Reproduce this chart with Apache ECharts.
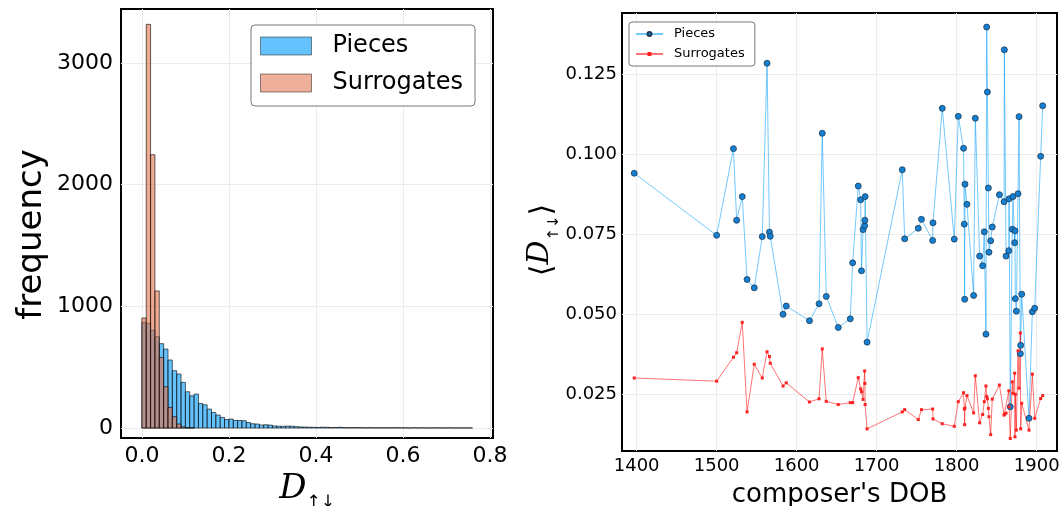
<!DOCTYPE html>
<html><head><meta charset="utf-8">
<script src="https://cdn.jsdelivr.net/npm/echarts@6/dist/echarts.min.js"></script>
<style>html,body{margin:0;padding:0;background:#fff}#c{width:1060px;height:506px}</style>
</head><body><div id="c"></div>
<script>
// ---------- data ----------
const binWidth = 0.01;
const piecesCounts = [868,860,805,750,693,649,559,471,444,375,298,265,279,202,191,156,128,107,87,70,
  74,62,62,60,45,35,33,25,27,24,17,15,14,16,15,11,9,8,7,6,
  5,7,6,4,5,6,4,3,3,4,3,2,3,2,2,3,2,2,3,2,
  2,1,2,1,2,1,1,2,1,1,2,1,1,1,1,1];
const surrogateCounts = [904,3317,2246,1126,580,339,169,93,33,10,3,1];
const histXTicks = [0, 0.2, 0.4, 0.6, 0.8];
const histYTicks = [0, 1000, 2000, 3000];

const dobYears = [1397,1500,1521,1525,1532,1538,1547,1557,1563,1566,1567,1583,1587,1616,1628,1632,1637,1652,1667,1670,
  1677,1680,1681,1683,1685,1685.3,1685.6,1688,1732,1735,1752,1756,1770,1770.4,1782,1797,1802,1808.6,1809.5,1810,
  1810.4,1812.9,1821.2,1823.3,1828.7,1832.5,1834.5,1836.6,1837.5,1838.4,1839.6,1840.4,1842.5,1844.5,1853.4,1859.3,1859.6,1861.7,1865.2,1865.5,
  1867,1869.5,1870.4,1872.5,1872.9,1873.3,1874.6,1876.7,1878,1879.6,1880,1881.3,1890.4,1894.6,1897.5,1905,1907.5];
const piecesMean = [0.0941,0.0747,0.1018,0.0794,0.0868,0.0609,0.0583,0.0743,0.1285,0.0757,0.0744,0.0500,0.0526,0.0480,0.0533,0.1066,0.0556,0.0459,0.0486,0.0661,
  0.0901,0.0858,0.0636,0.0765,0.0777,0.0794,0.0868,0.0413,0.0952,0.0736,0.0769,0.0797,0.0731,0.0786,0.1144,0.0735,0.1119,0.1019,0.0782,0.0547,
  0.0907,0.0844,0.0559,0.1113,0.0682,0.0652,0.0758,0.0438,0.1398,0.1195,0.0895,0.0694,0.0730,0.0773,0.0874,0.0852,0.1327,0.0682,0.0699,0.0861,
  0.0211,0.0766,0.0868,0.0724,0.0761,0.0549,0.0510,0.0877,0.1118,0.0377,0.0403,0.0563,0.0175,0.0508,0.0519,0.0994,0.1152];
const surrogatesMean = [0.0301,0.0291,0.0366,0.0380,0.0475,0.0195,0.0344,0.0301,0.0383,0.0368,0.0347,0.0276,0.0286,0.0226,0.0236,0.0392,0.0228,0.0218,0.0224,0.0224,
  0.0302,0.0267,0.0258,0.0234,0.0323,0.0284,0.0218,0.0142,0.0195,0.0202,0.0171,0.0202,0.0204,0.0173,0.0158,0.0150,0.0227,0.0255,0.0204,0.0155,
  0.0207,0.0246,0.0192,0.0308,0.0161,0.0187,0.0227,0.0276,0.0243,0.0236,0.0206,0.0180,0.0124,0.0235,0.0279,0.0185,0.0188,0.0191,0.0261,0.0211,
  0.0112,0.0289,0.0253,0.0316,0.0117,0.0250,0.0138,0.0386,0.0269,0.0442,0.0142,0.0222,0.0138,0.0313,0.0175,0.0237,0.0246];
const dobTicks = [1400, 1500, 1600, 1700, 1800, 1900];
const meanTicks = [0.025, 0.050, 0.075, 0.100, 0.125];

// ---------- chart ----------
const FONT = "DejaVu Sans";
const chart = echarts.init(document.getElementById('c'), null, {renderer: 'canvas'});

function barRenderer(fill, stroke) {
  return function (params, api) {
    const x0 = api.value(0), h = api.value(1);
    const p0 = api.coord([x0, h]);
    const p1 = api.coord([x0 + binWidth, 0]);
    return {type: 'rect', shape: {x: p0[0], y: p0[1], width: p1[0] - p0[0], height: p1[1] - p0[1]},
      style: {fill: fill, stroke: stroke, lineWidth: 1}};
  };
}
const gridLine = {show: true, lineStyle: {color: '#ececec', width: 1}};

chart.setOption({
  animation: false,
  textStyle: {fontFamily: FONT, color: '#000'},
  grid: [
    {left: 121, top: 9, width: 372, height: 429, show: true, borderColor: '#000', borderWidth: 2,
     backgroundColor: 'transparent', containLabel: false, outerBoundsMode: 'none'},
    {left: 622, top: 13, width: 435, height: 438, show: true, borderColor: '#000', borderWidth: 2,
     backgroundColor: 'transparent', containLabel: false, outerBoundsMode: 'none'}
  ],
  legend: [
    {left: 251, top: 25, orient: 'vertical', padding: [9, 12, 11, 9], itemGap: 13,
     itemWidth: 51, itemHeight: 18, backgroundColor: '#fff', borderColor: '#777', borderWidth: 1, borderRadius: 4,
     textStyle: {fontSize: 24, fontFamily: FONT, color: '#000', padding: [0, 0, 0, 16], lineHeight: 24},
     data: [{name: 'Pieces', icon: 'rect', itemStyle: {color: 'rgb(102,194,252)', borderColor: 'rgba(0,0,0,0.45)', borderWidth: 1}},
            {name: 'Surrogates', icon: 'rect', itemStyle: {color: 'rgb(238,176,155)', borderColor: 'rgba(0,0,0,0.45)', borderWidth: 1}}]},
    {left: 629, top: 22, orient: 'vertical', padding: [4, 6, 4, 6], itemGap: 4,
     itemWidth: 27, itemHeight: 5, backgroundColor: '#fff', borderColor: '#777', borderWidth: 1, borderRadius: 3,
     textStyle: {fontSize: 13, fontFamily: FONT, color: '#000', padding: [0, 0, 0, 6], lineHeight: 16},
     data: ['Pieces ', 'Surrogates ']}
  ],
  xAxis: [
    {type: 'value', gridIndex: 0, min: -0.048, max: 0.807,
     name: '{d|D}{s|↑↓}', nameLocation: 'middle', nameGap: 28,
     nameTextStyle: {rich: {d: {fontFamily: 'DejaVu Serif', fontStyle: 'italic', fontSize: 34, padding: [0, 0, 5, 0]},
                            s: {fontFamily: 'DejaVu Sans', fontSize: 17, verticalAlign: 'bottom'}}},
     axisLine: {show: false}, axisTick: {show: false, customValues: histXTicks},
     axisLabel: {customValues: histXTicks, fontSize: 22, margin: 7, color: '#000', formatter: v => v.toFixed(1)},
     splitLine: gridLine},
    {type: 'value', gridIndex: 1, min: 1381.7, max: 1925.4,
     name: "composer's DOB", nameLocation: 'middle', nameGap: 31, nameTextStyle: {fontSize: 26},
     axisLine: {show: false}, axisTick: {show: false, customValues: dobTicks},
     axisLabel: {customValues: dobTicks, fontSize: 18, margin: 6, color: '#000', formatter: v => String(v)},
     splitLine: gridLine}
  ],
  yAxis: [
    {type: 'value', gridIndex: 0, min: -82, max: 3443,
     name: 'frequency', nameLocation: 'middle', nameGap: 72, nameTextStyle: {fontSize: 34, padding: [0, 22, 0, 0]},
     axisLine: {show: false}, axisTick: {show: false, customValues: histYTicks},
     axisLabel: {customValues: histYTicks, fontSize: 22, margin: 8, color: '#000', formatter: v => String(v)},
     splitLine: gridLine},
    {type: 'value', gridIndex: 1, min: 0.00728, max: 0.1442,
     name: '{b|⟨}{d|D}{s|↑↓}{b|⟩}', nameLocation: 'middle', nameGap: 58,
     nameTextStyle: {padding: [0, 16, 0, 0],
                     rich: {b: {fontFamily: 'DejaVu Sans', fontSize: 30},
                            d: {fontFamily: 'DejaVu Serif', fontStyle: 'italic', fontSize: 30, padding: [0, 0, 6, 0]},
                            s: {fontFamily: 'DejaVu Sans', fontSize: 15, verticalAlign: 'bottom'}}},
     axisLine: {show: false}, axisTick: {show: false, customValues: meanTicks},
     axisLabel: {customValues: meanTicks, fontSize: 18, margin: 5, color: '#000', formatter: v => v.toFixed(3)},
     splitLine: gridLine}
  ],
  series: [
    {name: 'Pieces', type: 'custom', xAxisIndex: 0, yAxisIndex: 0, clip: true,
     itemStyle: {color: 'rgb(102,194,252)'},
     renderItem: barRenderer('rgba(0,154,250,0.6)', 'rgba(0,0,0,0.6)'),
     data: piecesCounts.map((c, i) => [i * binWidth, c])},
    {name: 'Surrogates', type: 'custom', xAxisIndex: 0, yAxisIndex: 0, clip: true,
     itemStyle: {color: 'rgb(238,176,155)'},
     renderItem: barRenderer('rgba(227,111,71,0.6)', 'rgba(0,0,0,0.6)'),
     data: surrogateCounts.map((c, i) => [i * binWidth, c])},
    {name: 'Pieces ', type: 'line', xAxisIndex: 1, yAxisIndex: 1,
     data: dobYears.map((y, i) => [y, piecesMean[i]]),
     symbol: 'circle', symbolSize: 6,
     lineStyle: {color: 'rgba(0,154,250,0.55)', width: 1},
     itemStyle: {color: '#1580d2', borderColor: '#1b3a55', borderWidth: 0.8}},
    {name: 'Surrogates ', type: 'line', xAxisIndex: 1, yAxisIndex: 1,
     data: dobYears.map((y, i) => [y, surrogatesMean[i]]),
     symbol: 'rect', symbolSize: 3,
     lineStyle: {color: 'rgba(255,0,0,0.55)', width: 1},
     itemStyle: {color: '#ff2020', borderWidth: 0}}
  ]
});
</script></body></html>
